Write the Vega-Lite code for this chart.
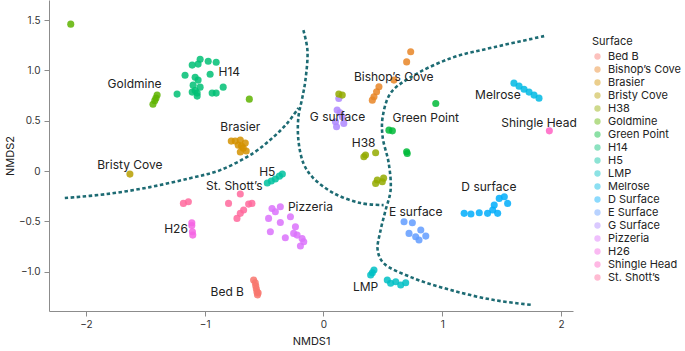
{
"$schema": "https://vega.github.io/schema/vega-lite/v6.json",
"width": 524,
"height": 311,
"autosize": {"type": "none"},
"padding": {"left": 49, "top": 0, "right": 112, "bottom": 40},
"background": "white",
"config": {"view": {"stroke": null}, "font": "Inter"},
"datasets": {
"pts": [
{"Surface":"Goldmine","x":-2.127,"y":1.46},
{"Surface":"Goldmine","x":-0.624,"y":0.715},
{"Surface":"Goldmine","x":-1.40,"y":0.755},
{"Surface":"Goldmine","x":-1.41,"y":0.725},
{"Surface":"Goldmine","x":-1.42,"y":0.70},
{"Surface":"Goldmine","x":-1.435,"y":0.665},
{"Surface":"H14","x":-1.038,"y":1.112},
{"Surface":"H14","x":-0.970,"y":1.092},
{"Surface":"H14","x":-0.903,"y":1.082},
{"Surface":"H14","x":-1.105,"y":1.053},
{"Surface":"H14","x":-1.055,"y":1.063},
{"Surface":"H14","x":-0.954,"y":0.963},
{"Surface":"H14","x":-1.165,"y":0.953},
{"Surface":"H14","x":-1.080,"y":0.933},
{"Surface":"H14","x":-1.055,"y":0.904},
{"Surface":"H14","x":-1.097,"y":0.854},
{"Surface":"H14","x":-1.038,"y":0.834},
{"Surface":"H14","x":-1.105,"y":0.785},
{"Surface":"H14","x":-1.063,"y":0.775},
{"Surface":"H14","x":-0.844,"y":0.834},
{"Surface":"H14","x":-0.937,"y":0.775},
{"Surface":"H14","x":-0.903,"y":0.775},
{"Surface":"H14","x":-1.232,"y":0.765},
{"Surface":"H14","x":-1.063,"y":0.745},
{"Surface":"H14","x":-1.08,"y":0.80},
{"Surface":"Brasier","x":-0.743,"y":0.298},
{"Surface":"Brasier","x":-0.700,"y":0.308},
{"Surface":"Brasier","x":-0.658,"y":0.278},
{"Surface":"Brasier","x":-0.717,"y":0.258},
{"Surface":"Brasier","x":-0.675,"y":0.228},
{"Surface":"Brasier","x":-0.700,"y":0.189},
{"Surface":"Brasier","x":-0.650,"y":0.199},
{"Surface":"Brasier","x":-0.776,"y":0.298},
{"Surface":"Brasier","x":-0.69,"y":0.25},
{"Surface":"Bristy Cove","x":-1.629,"y":-0.03},
{"Surface":"H5","x":-0.473,"y":-0.119},
{"Surface":"H5","x":-0.439,"y":-0.099},
{"Surface":"H5","x":-0.405,"y":-0.079},
{"Surface":"H5","x":-0.371,"y":-0.05},
{"Surface":"H5","x":-0.346,"y":-0.03},
{"Surface":"St. Shott's","x":-1.179,"y":-0.321},
{"Surface":"St. Shott's","x":-1.137,"y":-0.305},
{"Surface":"St. Shott's","x":-0.799,"y":-0.321},
{"Surface":"St. Shott's","x":-0.700,"y":-0.228},
{"Surface":"St. Shott's","x":-0.630,"y":-0.328},
{"Surface":"St. Shott's","x":-0.602,"y":-0.321},
{"Surface":"St. Shott's","x":-0.672,"y":-0.387},
{"Surface":"St. Shott's","x":-0.700,"y":-0.420},
{"Surface":"St. Shott's","x":-0.728,"y":-0.470},
{"Surface":"H26","x":-1.108,"y":-0.513},
{"Surface":"H26","x":-1.108,"y":-0.54},
{"Surface":"H26","x":-1.103,"y":-0.603},
{"Surface":"H26","x":-1.100,"y":-0.636},
{"Surface":"Bed B","x":-0.588,"y":-1.082},
{"Surface":"Bed B","x":-0.574,"y":-1.11},
{"Surface":"Bed B","x":-0.570,"y":-1.14},
{"Surface":"Bed B","x":-0.565,"y":-1.17},
{"Surface":"Bed B","x":-0.560,"y":-1.20},
{"Surface":"Bed B","x":-0.556,"y":-1.23},
{"Surface":"Bed B","x":-0.55,"y":-1.21},
{"Surface":"Pizzeria","x":-0.433,"y":-0.371},
{"Surface":"Pizzeria","x":-0.363,"y":-0.354},
{"Surface":"Pizzeria","x":-0.405,"y":-0.404},
{"Surface":"Pizzeria","x":-0.462,"y":-0.470},
{"Surface":"Pizzeria","x":-0.363,"y":-0.510},
{"Surface":"Pizzeria","x":-0.278,"y":-0.454},
{"Surface":"Pizzeria","x":-0.447,"y":-0.603},
{"Surface":"Pizzeria","x":-0.321,"y":-0.662},
{"Surface":"Pizzeria","x":-0.236,"y":-0.553},
{"Surface":"Pizzeria","x":-0.251,"y":-0.619},
{"Surface":"Pizzeria","x":-0.180,"y":-0.669},
{"Surface":"Pizzeria","x":-0.166,"y":-0.702},
{"Surface":"Pizzeria","x":-0.194,"y":-0.745},
{"Surface":"Pizzeria","x":-0.222,"y":-0.636},
{"Surface":"G Surface","x":0.129,"y":0.722},
{"Surface":"G Surface","x":0.115,"y":0.606},
{"Surface":"G Surface","x":0.158,"y":0.540},
{"Surface":"G Surface","x":0.101,"y":0.490},
{"Surface":"G Surface","x":0.171,"y":0.474},
{"Surface":"G Surface","x":0.110,"y":0.440},
{"Surface":"G Surface","x":0.14,"y":0.58},
{"Surface":"H38","x":0.158,"y":0.755},
{"Surface":"H38","x":0.129,"y":0.765},
{"Surface":"H38","x":0.354,"y":0.159},
{"Surface":"H38","x":0.439,"y":0.182},
{"Surface":"H38","x":0.340,"y":0.142},
{"Surface":"H38","x":0.453,"y":-0.089},
{"Surface":"H38","x":0.495,"y":-0.106},
{"Surface":"H38","x":0.439,"y":-0.122},
{"Surface":"H38","x":0.506,"y":-0.07},
{"Surface":"Bishop's Cove","x":0.734,"y":1.185},
{"Surface":"Bishop's Cove","x":0.700,"y":1.085},
{"Surface":"Bishop's Cove","x":0.593,"y":0.904},
{"Surface":"Bishop's Cove","x":0.467,"y":0.837},
{"Surface":"Bishop's Cove","x":0.447,"y":0.788},
{"Surface":"Bishop's Cove","x":0.425,"y":0.738},
{"Surface":"Bishop's Cove","x":0.411,"y":0.705},
{"Surface":"Green Point","x":0.945,"y":0.672},
{"Surface":"Green Point","x":0.551,"y":0.407},
{"Surface":"Green Point","x":0.580,"y":0.400},
{"Surface":"Green Point","x":0.700,"y":0.192},
{"Surface":"Green Point","x":0.705,"y":0.175},
{"Surface":"Melrose","x":1.603,"y":0.874},
{"Surface":"Melrose","x":1.646,"y":0.844},
{"Surface":"Melrose","x":1.688,"y":0.814},
{"Surface":"Melrose","x":1.730,"y":0.785},
{"Surface":"Melrose","x":1.772,"y":0.755},
{"Surface":"Melrose","x":1.814,"y":0.725},
{"Surface":"Shingle Head","x":1.901,"y":0.400},
{"Surface":"D Surface","x":1.184,"y":-0.420},
{"Surface":"D Surface","x":1.241,"y":-0.427},
{"Surface":"D Surface","x":1.311,"y":-0.414},
{"Surface":"D Surface","x":1.381,"y":-0.420},
{"Surface":"D Surface","x":1.424,"y":-0.387},
{"Surface":"D Surface","x":1.437,"y":-0.338},
{"Surface":"D Surface","x":1.479,"y":-0.271},
{"Surface":"D Surface","x":1.522,"y":-0.255},
{"Surface":"D Surface","x":1.550,"y":-0.321},
{"Surface":"D Surface","x":1.466,"y":-0.420},
{"Surface":"E Surface","x":0.678,"y":-0.503},
{"Surface":"E Surface","x":0.748,"y":-0.513},
{"Surface":"E Surface","x":0.720,"y":-0.619},
{"Surface":"E Surface","x":0.776,"y":-0.652},
{"Surface":"E Surface","x":0.819,"y":-0.586},
{"Surface":"E Surface","x":0.861,"y":-0.646},
{"Surface":"E Surface","x":0.804,"y":-0.685},
{"Surface":"LMP","x":0.425,"y":-0.983},
{"Surface":"LMP","x":0.411,"y":-1.01},
{"Surface":"LMP","x":0.397,"y":-1.033},
{"Surface":"LMP","x":0.537,"y":-1.082},
{"Surface":"LMP","x":0.608,"y":-1.099},
{"Surface":"LMP","x":0.650,"y":-1.132},
{"Surface":"LMP","x":0.692,"y":-1.109},
{"Surface":"LMP","x":0.565,"y":-1.115}
],
"lines": [
{"c":"A","i":0,"x":-2.177,"y":-0.268},
{"c":"A","i":1,"x":-1.823,"y":-0.228},
{"c":"A","i":2,"x":-1.46,"y":-0.159},
{"c":"A","i":3,"x":-1.122,"y":-0.07},
{"c":"A","i":4,"x":-0.869,"y":0.01},
{"c":"A","i":5,"x":-0.591,"y":0.179},
{"c":"A","i":6,"x":-0.422,"y":0.338},
{"c":"A","i":7,"x":-0.304,"y":0.477},
{"c":"A","i":8,"x":-0.211,"y":0.626},
{"c":"B","i":0,"x":-0.169,"y":1.40},
{"c":"B","i":1,"x":-0.135,"y":1.20},
{"c":"B","i":2,"x":-0.152,"y":0.904},
{"c":"B","i":3,"x":-0.177,"y":0.735},
{"c":"B","i":4,"x":-0.211,"y":0.536},
{"c":"B","i":5,"x":-0.211,"y":0.308},
{"c":"B","i":6,"x":-0.169,"y":0.079},
{"c":"B","i":7,"x":-0.093,"y":-0.06},
{"c":"B","i":8,"x":0.084,"y":-0.218},
{"c":"B","i":9,"x":0.312,"y":-0.318},
{"c":"B","i":10,"x":0.506,"y":-0.338},
{"c":"C","i":0,"x":1.857,"y":1.341},
{"c":"C","i":1,"x":1.435,"y":1.231},
{"c":"C","i":2,"x":1.072,"y":1.122},
{"c":"C","i":3,"x":0.734,"y":0.933},
{"c":"C","i":4,"x":0.565,"y":0.775},
{"c":"C","i":5,"x":0.498,"y":0.536},
{"c":"C","i":6,"x":0.498,"y":0.338},
{"c":"C","i":7,"x":0.549,"y":0.079},
{"c":"C","i":8,"x":0.565,"y":-0.189},
{"c":"C","i":9,"x":0.523,"y":-0.387},
{"c":"C","i":10,"x":0.481,"y":-0.586},
{"c":"C","i":11,"x":0.456,"y":-0.785},
{"c":"C","i":12,"x":0.506,"y":-0.914},
{"c":"C","i":13,"x":0.734,"y":-1.053},
{"c":"C","i":14,"x":1.072,"y":-1.182},
{"c":"C","i":15,"x":1.435,"y":-1.281},
{"c":"C","i":16,"x":1.764,"y":-1.331}
],
"labs": [
{"t":"Goldmine","x":-1.59,"y":0.864},
{"t":"H14","x":-0.793,"y":0.983},
{"t":"Brasier","x":-0.700,"y":0.437},
{"t":"Bristy Cove","x":-1.629,"y":0.06},
{"t":"H5","x":-0.473,"y":-0.01},
{"t":"St. Shott’s","x":-0.751,"y":-0.149},
{"t":"Pizzeria","x":-0.110,"y":-0.357},
{"t":"H26","x":-1.241,"y":-0.576},
{"t":"Bed B","x":-0.810,"y":-1.20},
{"t":"Bishop’s Cove","x":0.591,"y":0.934},
{"t":"G surface","x":0.118,"y":0.536},
{"t":"Green Point","x":0.861,"y":0.526},
{"t":"H38","x":0.338,"y":0.278},
{"t":"Melrose","x":1.468,"y":0.755},
{"t":"Shingle Head","x":1.814,"y":0.477},
{"t":"D surface","x":1.392,"y":-0.159},
{"t":"E surface","x":0.776,"y":-0.407},
{"t":"LMP","x":0.354,"y":-1.152}
]
},
"layer": [
{
"data": {"name": "pts"},
"mark": {"type": "circle", "size": 50, "opacity": 0.85},
"encoding": {
"x": {"field": "x", "type": "quantitative", "scale": {"domain": [-2.31, 2.10], "nice": false, "zero": false},
"axis": {"title": "NMDS1", "values": [-2, -1, 0, 1, 2], "grid": false, "domainColor": "#8c8c8c", "tickColor": "#8c8c8c", "tickSize": 5, "labelColor": "#333", "labelFontSize": 10, "labelPadding": 3, "titleFontSize": 11, "titleFontWeight": "normal", "titleColor": "#222", "titlePadding": 6,
"labelExpr": "replace(format(datum.value, '.0f'), '-', '−')"}},
"y": {"field": "y", "type": "quantitative", "scale": {"domain": [-1.39, 1.70], "nice": false, "zero": false},
"axis": {"title": "NMDS2", "values": [-1, -0.5, 0, 0.5, 1, 1.5], "grid": false, "domainColor": "#8c8c8c", "tickColor": "#8c8c8c", "tickSize": 5, "labelColor": "#333", "labelFontSize": 10, "labelPadding": 4, "titleFontSize": 11, "titleFontWeight": "normal", "titleColor": "#222", "titlePadding": 3,
"labelExpr": "datum.value == 0 ? '0' : replace(format(datum.value, '.1f'), '-', '−')"}},
"color": {"field": "Surface", "type": "nominal",
"scale": {"domain": ["Bed B","Bishop's Cove","Brasier","Bristy Cove","H38","Goldmine","Green Point","H14","H5","LMP","Melrose","D Surface","E Surface","G Surface","Pizzeria","H26","Shingle Head","St. Shott's"],
"range": ["#F8766D","#E88526","#D39200","#B79F00","#93AA00","#5EB300","#00BA38","#00BF74","#00C19F","#00BFC4","#00B9E3","#00ADFA","#619CFF","#AE87FF","#DB72FB","#F564E3","#FF61C3","#FF699C"]},
"legend": {"title": "Surface", "orient": "none", "legendX": 543, "legendY": 36, "titleFontSize": 11, "titleFontWeight": "normal", "titleColor": "#222", "labelFontSize": 11, "labelColor": "#222", "symbolType": "circle", "symbolSize": 40, "symbolOpacity": 0.45, "rowPadding": 1, "labelOffset": 5, "titlePadding": 4,
"labelExpr": "replace(datum.label, \"'\", '’')"}}
}
},
{
"data": {"name": "lines"},
"mark": {"type": "line", "color": "#1d6b73", "strokeWidth": 2.6, "strokeDash": [3.5, 2.5], "interpolate": "catmull-rom"},
"encoding": {
"x": {"field": "x", "type": "quantitative"},
"y": {"field": "y", "type": "quantitative"},
"detail": {"field": "c", "type": "nominal"},
"order": {"field": "i", "type": "quantitative"}
}
},
{
"data": {"name": "labs"},
"mark": {"type": "text", "fontSize": 12, "color": "#222", "font": "Inter"},
"encoding": {
"x": {"field": "x", "type": "quantitative"},
"y": {"field": "y", "type": "quantitative"},
"text": {"field": "t"}
}
}
]
}
